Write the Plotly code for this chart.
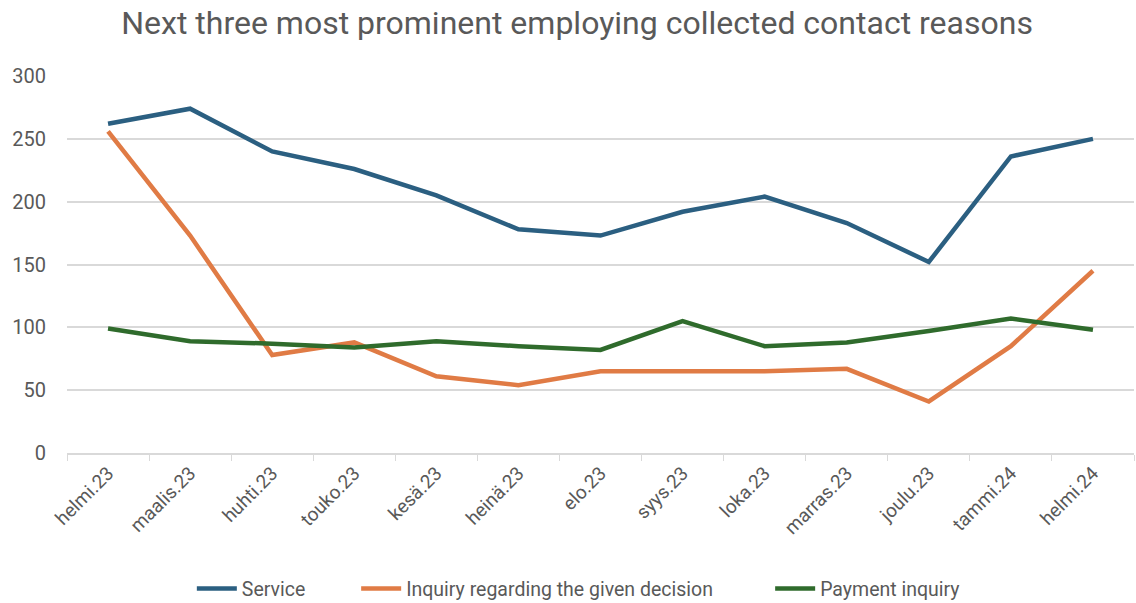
import plotly.graph_objects as go

months = ["helmi.23", "maalis.23", "huhti.23", "touko.23", "kesä.23", "heinä.23", "elo.23",
          "syys.23", "loka.23", "marras.23", "joulu.23", "tammi.24", "helmi.24"]
service = [262, 274, 240, 226, 205, 178, 173, 192, 204, 183, 152, 236, 250]
inquiry_decision = [256, 173, 78, 88, 61, 54, 65, 65, 65, 67, 41, 85, 145]
payment_inquiry = [99, 89, 87, 84, 89, 85, 82, 105, 85, 88, 97, 107, 98]

FONT = "Roboto, Open Sans, sans-serif"
GREY = "#595959"

series = [("Service", service, "#2b5f81", "legend", 0.117),
          ("Inquiry regarding the given decision", inquiry_decision, "#e07b45", "legend2", 0.271),
          ("Payment inquiry", payment_inquiry, "#2f6b2c", "legend3", 0.659)]

fig = go.Figure()
legends = {}
for name, vals, col, lg, lx in series:
    fig.add_trace(go.Scatter(x=months, y=vals, mode="lines", name=name, legend=lg,
                             line=dict(color=col, width=4.5)))
    legends[lg] = dict(orientation="h", x=lx, xref="paper", xanchor="left",
                       y=-0.36, yref="paper", yanchor="middle",
                       font=dict(family=FONT, size=19.5, color=GREY), itemwidth=40)

fig.update_layout(
    width=1136, height=603,
    margin=dict(l=67, r=2, t=76, b=150, autoexpand=False),
    paper_bgcolor="white", plot_bgcolor="white",
    font=dict(family=FONT, color=GREY, size=18),
    title=dict(text="Next three most prominent employing collected contact reasons",
               x=0.508, xref="container", xanchor="center",
               y=0.962, yref="container", yanchor="middle",
               font=dict(family=FONT, size=32, color=GREY)),
    showlegend=True,
    xaxis=dict(type="category", range=[-0.5, 12.5], tickangle=-45,
               showgrid=False, showline=True, linecolor="#d9d9d9", linewidth=1.5,
               ticks="outside", tickson="boundaries", ticklen=6, tickcolor="#d9d9d9",
               tickfont=dict(family=FONT, size=19, color=GREY)),
    yaxis=dict(range=[0, 300], tickvals=[0, 50, 100, 150, 200, 250, 300],
               showgrid=True, gridcolor="#d9d9d9", gridwidth=1.5,
               zeroline=False, showline=False, ticklabelstandoff=20,
               tickfont=dict(family=FONT, size=20, color=GREY)),
    **legends,
)

fig.write_html("out.html")
